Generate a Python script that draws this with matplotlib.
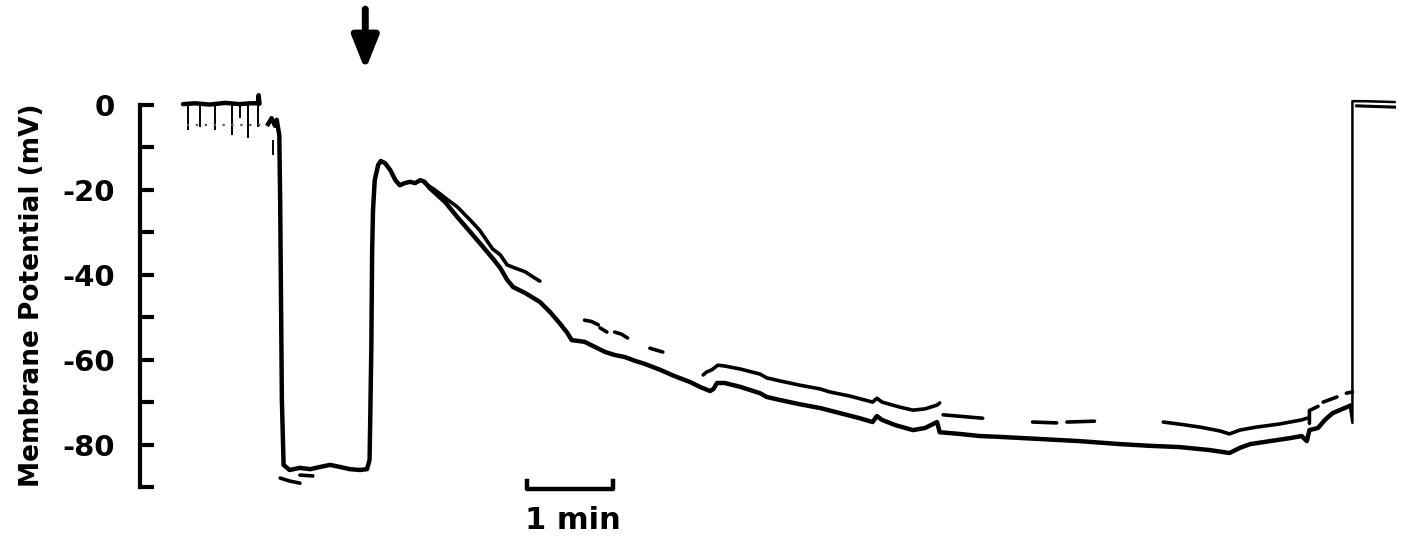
import numpy as np
import matplotlib
matplotlib.use('Agg')
import matplotlib.pyplot as plt

# time in minutes, membrane potential in mV
base_t = [0.0, 0.14, 0.31, 0.49, 0.66, 0.78, 0.87, 0.88, 0.89]
base_v = [0.2, 0.4, 0.1, 0.5, 0.2, 0.4, 0.4, 2.3, 0.3]

drip_t = [0.06, 0.20, 0.37, 0.57, 0.66, 0.76, 0.87, 1.05]
drip_top = [0.3, 0.3, 0.3, 0.3, 0.3, 0.3, 0.3, -8.2]
drip_bottom = [-5.9, -5.2, -5.9, -7.1, -3.1, -7.8, -5.2, -11.8]

main_t = [0.99, 1.03, 1.07, 1.09, 1.12, 1.13, 1.14, 1.15, 1.17, 1.24, 1.36, 1.48,
          1.59, 1.71, 1.83, 1.94, 2.06, 2.14, 2.17, 2.19, 2.20, 2.21, 2.23, 2.27,
          2.30, 2.35, 2.41, 2.47, 2.52, 2.58, 2.64, 2.70, 2.76, 2.81, 2.87, 3.05,
          3.19, 3.34, 3.45, 3.60, 3.69, 3.77, 3.84, 3.98, 4.15, 4.27, 4.38, 4.47,
          4.52, 4.67, 4.79, 4.91, 5.02, 5.14, 5.26, 5.37, 5.55, 5.72, 5.90, 6.01,
          6.13, 6.17, 6.21, 6.30, 6.48, 6.71, 6.79, 6.94, 7.17, 7.41, 7.64, 7.87,
          8.02, 8.07, 8.13, 8.28, 8.49, 8.63, 8.77, 8.80, 9.03, 9.27, 9.50, 9.97,
          10.43, 10.90, 11.24, 11.59, 11.94, 12.17, 12.29, 12.41, 12.64, 12.87,
          13.01, 13.07, 13.10, 13.20, 13.28, 13.37, 13.51, 13.57]
main_v = [-4.5, -3.1, -4.9, -3.5, -7.1, -22.4, -45.9, -69.5, -84.8, -86.0, -85.5, -85.8,
          -85.3, -84.8, -85.3, -85.8, -86.0, -85.8, -83.6, -57.7, -34.2, -24.7, -17.7, -14.1,
          -13.2, -13.7, -15.3, -17.7, -18.9, -18.4, -18.1, -18.4, -17.7, -18.1, -19.6, -22.9,
          -26.4, -29.9, -32.5, -36.1, -38.4, -41.2, -42.9, -44.3, -46.4, -48.8, -51.4, -53.7,
          -55.4, -55.8, -57.0, -58.2, -58.9, -59.4, -60.3, -61.0, -62.4, -63.9, -65.3, -66.4,
          -67.4, -66.9, -65.5, -65.5, -66.4, -67.9, -68.8, -69.5, -70.5, -71.4, -72.6, -73.8,
          -74.7, -73.3, -74.2, -75.4, -76.6, -76.1, -74.7, -77.1, -77.5, -78.0, -78.2, -78.7,
          -79.2, -79.9, -80.3, -80.6, -81.3, -82.0, -80.8, -79.9, -79.2, -78.5,
          -78.0, -79.2, -76.6, -76.1, -74.2, -72.6, -71.4, -70.9]

# return to 0 mV at the end
end_t = [13.57, 13.60, 13.60, 13.74, 14.09]
end_v = [-70.9, -74.9, 0.9, 0.9, 0.7]
end2_t = [13.65, 14.09]
end2_v = [-0.2, -0.5]

# second (upper) pen trace, in pieces
upper_segments = [
    ([2.81, 2.93, 3.05, 3.19, 3.34, 3.45, 3.60, 3.69, 3.77, 3.86, 3.98, 4.07, 4.15],
     [-18.4, -20.0, -21.9, -24.0, -27.1, -29.5, -33.9, -35.3, -37.7, -38.4, -39.3, -40.5, -41.5]),
    ([4.67, 4.75, 4.83], [-50.7, -51.0, -51.8]),
    ([4.85, 4.93], [-52.5, -53.5]),
    ([5.02, 5.10, 5.17], [-53.5, -54.0, -54.9]),
    ([5.43, 5.58], [-57.3, -58.2]),
    ([6.05, 6.09, 6.15, 6.22, 6.30, 6.48, 6.71, 6.79, 6.94, 7.17, 7.41, 7.52, 7.76,
      8.02, 8.07, 8.13, 8.34, 8.49, 8.63, 8.77, 8.80],
     [-63.6, -62.9, -62.4, -61.3, -61.5, -62.2, -63.4, -64.3, -65.0, -66.0, -66.9, -67.6, -68.6,
      -70.0, -69.1, -70.0, -71.2, -71.9, -71.6, -70.7, -70.2]),
    ([8.84, 9.30], [-73.0, -73.8]),
    ([9.88, 10.16], [-74.7, -74.9]),
    ([10.28, 10.60], [-74.7, -74.5]),
    ([11.40, 11.59, 11.83, 12.06, 12.17, 12.29, 12.48, 12.74, 13.01, 13.07],
     [-74.7, -75.2, -75.9, -76.8, -77.5, -76.6, -75.9, -75.2, -74.2, -73.8]),
    ([13.10, 13.10, 13.20], [-75.0, -72.0, -71.0]),
    ([13.26, 13.42], [-70.0, -68.8]),
    ([13.53, 13.60], [-67.9, -67.6]),
    ([1.13, 1.24, 1.36], [-87.9, -88.6, -89.1]),
    ([1.36, 1.51], [-87.2, -87.4]),
]

ytick_values = [0, -10, -20, -30, -40, -50, -60, -70, -80, -90]
ytick_labels = ['0', '', '-20', '', '-40', '', '-60', '', '-80', '']

arrow_t = 2.12
scale_bar = (4.0, 5.0)

fig = plt.figure(figsize=(14.04, 5.43), dpi=100)
ax = fig.add_axes([140 / 1404, 0, 1264 / 1404, 1])
ax.set_xlim(-0.5, 14.2)
ax.set_ylim(-103.2, 24.74)

ax.plot(base_t, base_v, color='k', lw=3.2, solid_capstyle='round')
ax.vlines(drip_t, drip_bottom, drip_top, color='k', lw=1.4)
ax.plot([0.05, 0.95], [-4.6, -4.6], color='0.35', lw=1.6, ls=(0, (1, 3)))
ax.plot(main_t, main_v, color='k', lw=3.2, solid_joinstyle='round')
ax.plot(end_t, end_v, color='k', lw=1.8)
ax.plot(end2_t, end2_v, color='k', lw=2.2)
for seg_t, seg_v in upper_segments:
    ax.plot(seg_t, seg_v, color='k', lw=2.6, solid_capstyle='round')

# stimulus arrow
ax.annotate('', xy=(arrow_t, 8.2), xytext=(arrow_t, 22.6),
            arrowprops=dict(arrowstyle='-|>,head_length=0.5,head_width=0.2',
                            mutation_scale=40, lw=5, color='k',
                            shrinkA=0, shrinkB=0))

# time scale bar
sb_y = -90.5
ax.plot([scale_bar[0], scale_bar[0], scale_bar[1], scale_bar[1]],
        [sb_y + 2.0, sb_y, sb_y, sb_y + 2.0], color='k', lw=3.2)
ax.text(sum(scale_bar) / 2 + 0.03, -97.8, '1 min', ha='center', va='center',
        fontsize=22, fontweight='bold')

for side in ['top', 'right', 'bottom']:
    ax.spines[side].set_visible(False)
ax.spines['left'].set_linewidth(3)
ax.spines['left'].set_bounds(-90, 0)
ax.set_xticks([])
ax.set_yticks(ytick_values)
ax.set_yticklabels(ytick_labels)
ax.tick_params(axis='y', direction='in', length=10, width=3, pad=18,
               labelsize=21)
for lbl in ax.get_yticklabels():
    lbl.set_fontweight('bold')

fig.text(32 / 1404, 1 - 295 / 543, 'Membrane Potential (mV)', rotation=90,
         ha='center', va='center', fontsize=19, fontweight='bold')

fig.savefig('out.png', dpi=100, facecolor='white')
